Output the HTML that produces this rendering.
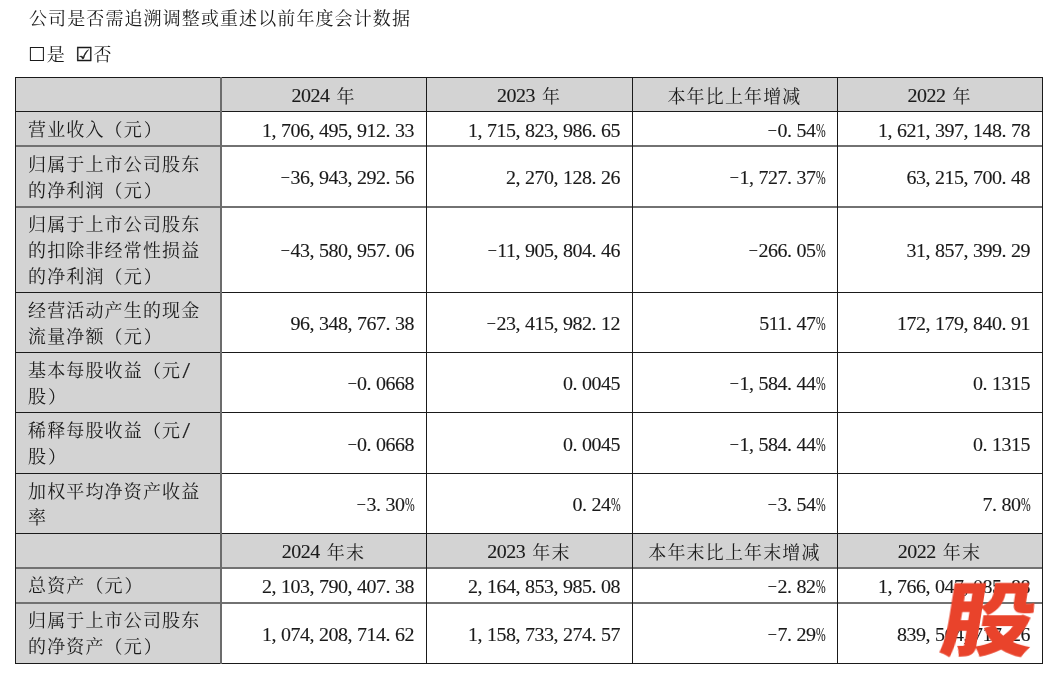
<!DOCTYPE html>
<html lang="zh-CN"><head><meta charset="utf-8"><title>会计数据</title>
<style>
*{margin:0;padding:0;box-sizing:border-box}
html,body{width:1054px;height:674px;background:#fff;overflow:hidden}
body{position:relative;font-family:"Liberation Serif","Noto Serif CJK SC",serif;font-size:19px;color:#1a1a1a;}
.g{position:absolute;background:#d3d3d3}
.t,#title,#chk{will-change:transform}
.hl{position:absolute;left:15px;width:1028px;height:1px;background:#1a1a1a}
.vl{position:absolute;top:77px;height:587px;width:1px;background:#1a1a1a}
.h2{height:2px;background:#727272}
.v2{width:2px;background:#6c6c6c}
.t{font-family:"Noto Serif CJK SC",serif;font-size:18px;position:absolute;display:flex;align-items:flex-start;padding-top:4.3px;line-height:26px;white-space:nowrap}
.t>div{position:relative}
.ln{height:26px}
.z{font-family:"Noto Serif CJK SC",serif;font-size:18px;letter-spacing:1.15px}
.rp{position:relative;left:.8px}
.n{-webkit-text-stroke:.12px #1a1a1a;position:relative;top:.2px;display:inline-block;font-family:"Liberation Serif",serif;font-size:20px;letter-spacing:-.5px;transform:scaleY(.96);transform-origin:50% 75%}
.t.l{padding-left:13px;justify-content:flex-start}
.t.r{padding-right:12px;justify-content:flex-end;align-items:center;padding-top:0}
.t.c{justify-content:center;padding-top:4.8px}
.t.c .sp{width:7px}
.t.c .n{top:-1px}
.p{display:inline-block;width:9.5px}
.sp{display:inline-block;width:9.5px}
.pc{display:inline-block;width:9.5px;transform:scaleX(.58);transform-origin:0 0}
.m{display:inline-block;width:9.5px;transform:translate(-0.6px,-2.6px) scale(1.45,.55);transform-origin:0 60%}
.sl{display:inline-block;width:9.5px;transform:translate(1.6px,.8px) scale(1.35,1.15);transform-origin:0 80%}
#title{position:absolute;left:29px;top:4px;line-height:26px;font-family:"Noto Serif CJK SC",serif;font-size:18px;letter-spacing:1.1px}
#chk{position:absolute;left:28px;top:39.5px;line-height:26px}
.bx{font-family:"DejaVu Sans",sans-serif;font-size:19.3px;letter-spacing:0}
.gap{display:inline-block;width:9.5px}
.b{-webkit-text-stroke:.35px #1a1a1a}
#chk{font-family:"Noto Serif CJK SC",serif;font-size:18px;letter-spacing:1px}
#logo{position:absolute;left:937px;top:574px;font-family:"Noto Sans CJK SC",sans-serif;font-weight:900;font-size:80px;line-height:80px;color:#e9432b;transform:skewX(-9deg) scaleX(1.17);transform-origin:0 100%}
</style></head><body>
<div id="title">公司是否需追溯调整或重述以前年度会计数据</div>
<div id="chk"><span class="bx" style="margin-right:1.5px">☐</span>是<span class="gap"> </span><span class="bx b" style="margin-right:1px">☑</span>否</div>
<div class="g" style="left:15px;top:77px;width:1027px;height:34px"></div>
<div class="g" style="left:15px;top:111px;width:206px;height:35px"></div>
<div class="g" style="left:15px;top:146px;width:206px;height:60px"></div>
<div class="g" style="left:15px;top:206px;width:206px;height:86px"></div>
<div class="g" style="left:15px;top:292px;width:206px;height:60px"></div>
<div class="g" style="left:15px;top:352px;width:206px;height:60px"></div>
<div class="g" style="left:15px;top:412px;width:206px;height:61px"></div>
<div class="g" style="left:15px;top:473px;width:206px;height:60px"></div>
<div class="g" style="left:15px;top:533px;width:1027px;height:34px"></div>
<div class="g" style="left:15px;top:567px;width:206px;height:35px"></div>
<div class="g" style="left:15px;top:602px;width:206px;height:61px"></div>
<div class="hl" style="top:77px"></div>
<div class="hl" style="top:111px"></div>
<div class="hl h2" style="top:145px"></div>
<div class="hl h2" style="top:206px"></div>
<div class="hl" style="top:292px"></div>
<div class="hl" style="top:352px"></div>
<div class="hl" style="top:412px"></div>
<div class="hl" style="top:473px"></div>
<div class="hl" style="top:533px"></div>
<div class="hl h2" style="top:567px"></div>
<div class="hl h2" style="top:602px"></div>
<div class="hl" style="top:663px"></div>
<div class="vl" style="left:15px"></div>
<div class="vl v2" style="left:220px"></div>
<div class="vl" style="left:426px"></div>
<div class="vl" style="left:632px"></div>
<div class="vl" style="left:837px"></div>
<div class="vl" style="left:1042px"></div>
<div class="t c" style="left:221px;top:77px;width:205px;height:34px"><div><div class="ln"><span class="n">2024<span class="sp"> </span></span><span class="z">年</span></div></div></div>
<div class="t c" style="left:426px;top:77px;width:206px;height:34px"><div><div class="ln"><span class="n">2023<span class="sp"> </span></span><span class="z">年</span></div></div></div>
<div class="t c" style="left:632px;top:77px;width:205px;height:34px"><div><div class="ln"><span class="z">本年比上年增减</span></div></div></div>
<div class="t c" style="left:837px;top:77px;width:205px;height:34px"><div><div class="ln"><span class="n">2022<span class="sp"> </span></span><span class="z">年</span></div></div></div>
<div class="t l" style="left:15px;top:111px;width:206px;height:35px"><div><div class="ln"><span class="z">营业收入（元<span class="rp">）</span></span></div></div></div>
<div class="t r" style="left:221px;top:111px;width:205px;height:35px"><div><div class="ln"><span class="n">1<span class="p">,</span>706<span class="p">,</span>495<span class="p">,</span>912<span class="p">.</span>33</span></div></div></div>
<div class="t r" style="left:426px;top:111px;width:206px;height:35px"><div><div class="ln"><span class="n">1<span class="p">,</span>715<span class="p">,</span>823<span class="p">,</span>986<span class="p">.</span>65</span></div></div></div>
<div class="t r" style="left:632px;top:111px;width:205px;height:35px"><div><div class="ln"><span class="n"><span class="m">-</span>0<span class="p">.</span>54<span class="pc">%</span></span></div></div></div>
<div class="t r" style="left:837px;top:111px;width:205px;height:35px"><div><div class="ln"><span class="n">1<span class="p">,</span>621<span class="p">,</span>397<span class="p">,</span>148<span class="p">.</span>78</span></div></div></div>
<div class="t l" style="left:15px;top:146px;width:206px;height:60px"><div><div class="ln"><span class="z">归属于上市公司股东</span></div><div class="ln"><span class="z">的净利润（元<span class="rp">）</span></span></div></div></div>
<div class="t r" style="left:221px;top:146px;width:205px;height:60px"><div><div class="ln"><span class="n"><span class="m">-</span>36<span class="p">,</span>943<span class="p">,</span>292<span class="p">.</span>56</span></div></div></div>
<div class="t r" style="left:426px;top:146px;width:206px;height:60px"><div><div class="ln"><span class="n">2<span class="p">,</span>270<span class="p">,</span>128<span class="p">.</span>26</span></div></div></div>
<div class="t r" style="left:632px;top:146px;width:205px;height:60px"><div><div class="ln"><span class="n"><span class="m">-</span>1<span class="p">,</span>727<span class="p">.</span>37<span class="pc">%</span></span></div></div></div>
<div class="t r" style="left:837px;top:146px;width:205px;height:60px"><div><div class="ln"><span class="n">63<span class="p">,</span>215<span class="p">,</span>700<span class="p">.</span>48</span></div></div></div>
<div class="t l" style="left:15px;top:206px;width:206px;height:86px"><div><div class="ln"><span class="z">归属于上市公司股东</span></div><div class="ln"><span class="z">的扣除非经常性损益</span></div><div class="ln"><span class="z">的净利润（元<span class="rp">）</span></span></div></div></div>
<div class="t r" style="left:221px;top:206px;width:205px;height:86px"><div><div class="ln"><span class="n"><span class="m">-</span>43<span class="p">,</span>580<span class="p">,</span>957<span class="p">.</span>06</span></div></div></div>
<div class="t r" style="left:426px;top:206px;width:206px;height:86px"><div><div class="ln"><span class="n"><span class="m">-</span>11<span class="p">,</span>905<span class="p">,</span>804<span class="p">.</span>46</span></div></div></div>
<div class="t r" style="left:632px;top:206px;width:205px;height:86px"><div><div class="ln"><span class="n"><span class="m">-</span>266<span class="p">.</span>05<span class="pc">%</span></span></div></div></div>
<div class="t r" style="left:837px;top:206px;width:205px;height:86px"><div><div class="ln"><span class="n">31<span class="p">,</span>857<span class="p">,</span>399<span class="p">.</span>29</span></div></div></div>
<div class="t l" style="left:15px;top:292px;width:206px;height:60px"><div><div class="ln"><span class="z">经营活动产生的现金</span></div><div class="ln"><span class="z">流量净额（元<span class="rp">）</span></span></div></div></div>
<div class="t r" style="left:221px;top:292px;width:205px;height:60px"><div><div class="ln"><span class="n">96<span class="p">,</span>348<span class="p">,</span>767<span class="p">.</span>38</span></div></div></div>
<div class="t r" style="left:426px;top:292px;width:206px;height:60px"><div><div class="ln"><span class="n"><span class="m">-</span>23<span class="p">,</span>415<span class="p">,</span>982<span class="p">.</span>12</span></div></div></div>
<div class="t r" style="left:632px;top:292px;width:205px;height:60px"><div><div class="ln"><span class="n">511<span class="p">.</span>47<span class="pc">%</span></span></div></div></div>
<div class="t r" style="left:837px;top:292px;width:205px;height:60px"><div><div class="ln"><span class="n">172<span class="p">,</span>179<span class="p">,</span>840<span class="p">.</span>91</span></div></div></div>
<div class="t l" style="left:15px;top:352px;width:206px;height:60px"><div><div class="ln"><span class="z">基本每股收益（元</span><span class="n"><span class="sl">/</span></span></div><div class="ln"><span class="z">股<span class="rp">）</span></span></div></div></div>
<div class="t r" style="left:221px;top:352px;width:205px;height:60px"><div><div class="ln"><span class="n"><span class="m">-</span>0<span class="p">.</span>0668</span></div></div></div>
<div class="t r" style="left:426px;top:352px;width:206px;height:60px"><div><div class="ln"><span class="n">0<span class="p">.</span>0045</span></div></div></div>
<div class="t r" style="left:632px;top:352px;width:205px;height:60px"><div><div class="ln"><span class="n"><span class="m">-</span>1<span class="p">,</span>584<span class="p">.</span>44<span class="pc">%</span></span></div></div></div>
<div class="t r" style="left:837px;top:352px;width:205px;height:60px"><div><div class="ln"><span class="n">0<span class="p">.</span>1315</span></div></div></div>
<div class="t l" style="left:15px;top:412px;width:206px;height:61px"><div><div class="ln"><span class="z">稀释每股收益（元</span><span class="n"><span class="sl">/</span></span></div><div class="ln"><span class="z">股<span class="rp">）</span></span></div></div></div>
<div class="t r" style="left:221px;top:412px;width:205px;height:61px"><div><div class="ln"><span class="n"><span class="m">-</span>0<span class="p">.</span>0668</span></div></div></div>
<div class="t r" style="left:426px;top:412px;width:206px;height:61px"><div><div class="ln"><span class="n">0<span class="p">.</span>0045</span></div></div></div>
<div class="t r" style="left:632px;top:412px;width:205px;height:61px"><div><div class="ln"><span class="n"><span class="m">-</span>1<span class="p">,</span>584<span class="p">.</span>44<span class="pc">%</span></span></div></div></div>
<div class="t r" style="left:837px;top:412px;width:205px;height:61px"><div><div class="ln"><span class="n">0<span class="p">.</span>1315</span></div></div></div>
<div class="t l" style="left:15px;top:473px;width:206px;height:60px"><div><div class="ln"><span class="z">加权平均净资产收益</span></div><div class="ln"><span class="z">率</span></div></div></div>
<div class="t r" style="left:221px;top:473px;width:205px;height:60px"><div><div class="ln"><span class="n"><span class="m">-</span>3<span class="p">.</span>30<span class="pc">%</span></span></div></div></div>
<div class="t r" style="left:426px;top:473px;width:206px;height:60px"><div><div class="ln"><span class="n">0<span class="p">.</span>24<span class="pc">%</span></span></div></div></div>
<div class="t r" style="left:632px;top:473px;width:205px;height:60px"><div><div class="ln"><span class="n"><span class="m">-</span>3<span class="p">.</span>54<span class="pc">%</span></span></div></div></div>
<div class="t r" style="left:837px;top:473px;width:205px;height:60px"><div><div class="ln"><span class="n">7<span class="p">.</span>80<span class="pc">%</span></span></div></div></div>
<div class="t c" style="left:221px;top:533px;width:205px;height:34px"><div><div class="ln"><span class="n">2024<span class="sp"> </span></span><span class="z">年末</span></div></div></div>
<div class="t c" style="left:426px;top:533px;width:206px;height:34px"><div><div class="ln"><span class="n">2023<span class="sp"> </span></span><span class="z">年末</span></div></div></div>
<div class="t c" style="left:632px;top:533px;width:205px;height:34px"><div><div class="ln"><span class="z">本年末比上年末增减</span></div></div></div>
<div class="t c" style="left:837px;top:533px;width:205px;height:34px"><div><div class="ln"><span class="n">2022<span class="sp"> </span></span><span class="z">年末</span></div></div></div>
<div class="t l" style="left:15px;top:567px;width:206px;height:35px"><div><div class="ln"><span class="z">总资产（元<span class="rp">）</span></span></div></div></div>
<div class="t r" style="left:221px;top:567px;width:205px;height:35px"><div><div class="ln"><span class="n">2<span class="p">,</span>103<span class="p">,</span>790<span class="p">,</span>407<span class="p">.</span>38</span></div></div></div>
<div class="t r" style="left:426px;top:567px;width:206px;height:35px"><div><div class="ln"><span class="n">2<span class="p">,</span>164<span class="p">,</span>853<span class="p">,</span>985<span class="p">.</span>08</span></div></div></div>
<div class="t r" style="left:632px;top:567px;width:205px;height:35px"><div><div class="ln"><span class="n"><span class="m">-</span>2<span class="p">.</span>82<span class="pc">%</span></span></div></div></div>
<div class="t r" style="left:837px;top:567px;width:205px;height:35px"><div><div class="ln"><span class="n">1<span class="p">,</span>766<span class="p">,</span>047<span class="p">,</span>085<span class="p">.</span>88</span></div></div></div>
<div class="t l" style="left:15px;top:602px;width:206px;height:61px"><div><div class="ln"><span class="z">归属于上市公司股东</span></div><div class="ln"><span class="z">的净资产（元<span class="rp">）</span></span></div></div></div>
<div class="t r" style="left:221px;top:602px;width:205px;height:61px"><div><div class="ln"><span class="n">1<span class="p">,</span>074<span class="p">,</span>208<span class="p">,</span>714<span class="p">.</span>62</span></div></div></div>
<div class="t r" style="left:426px;top:602px;width:206px;height:61px"><div><div class="ln"><span class="n">1<span class="p">,</span>158<span class="p">,</span>733<span class="p">,</span>274<span class="p">.</span>57</span></div></div></div>
<div class="t r" style="left:632px;top:602px;width:205px;height:61px"><div><div class="ln"><span class="n"><span class="m">-</span>7<span class="p">.</span>29<span class="pc">%</span></span></div></div></div>
<div class="t r" style="left:837px;top:602px;width:205px;height:61px"><div><div class="ln"><span class="n">839<span class="p">,</span>564<span class="p">,</span>717<span class="p">.</span>26</span></div></div></div>
<div id="logo">股</div>
</body></html>
